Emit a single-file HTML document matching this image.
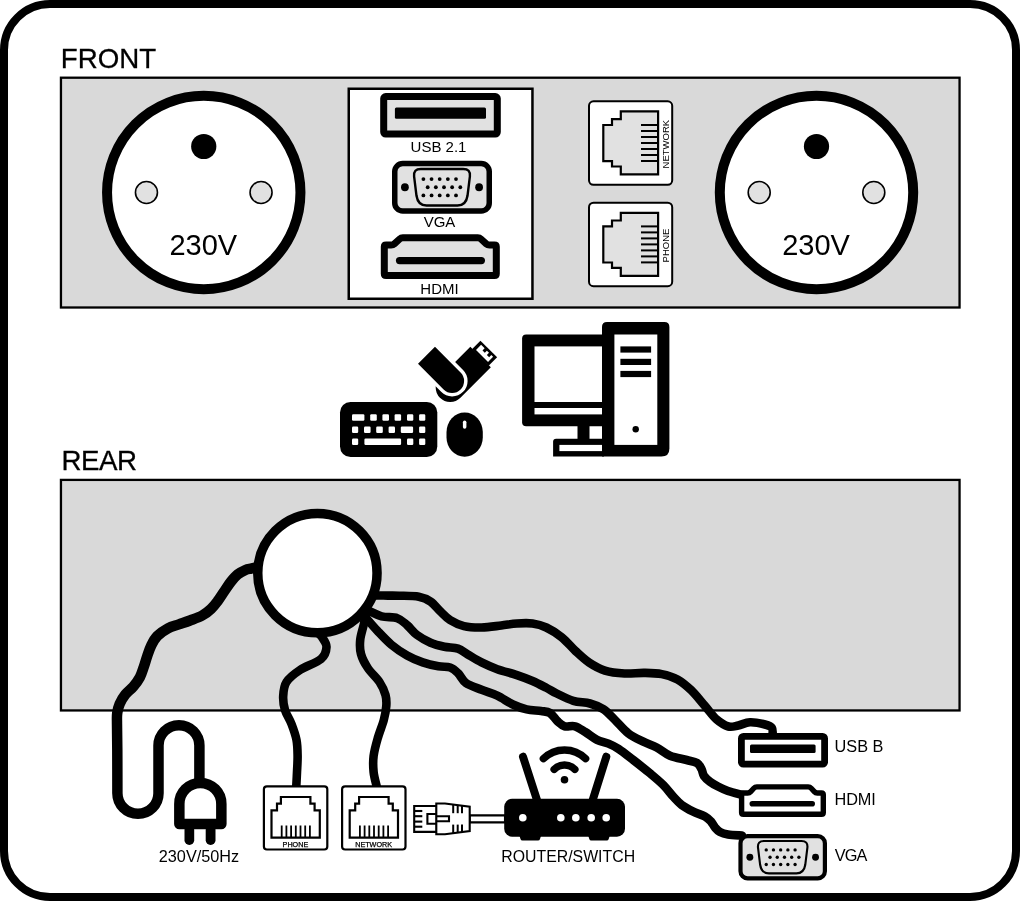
<!DOCTYPE html>
<html><head><meta charset="utf-8"><title>Connection panel</title>
<style>html,body{margin:0;padding:0;background:#fff}svg{display:block;will-change:transform}</style></head>
<body>
<svg width="1020" height="901" viewBox="0 0 1020 901">
<rect width="1020" height="901" fill="#fff"/>
<rect x="4" y="4" width="1012" height="893" rx="46" ry="46" fill="#fff" stroke="#000" stroke-width="8"/>
<text transform="translate(60.8 67.5) scale(1 1.03)" font-size="27.7" stroke="#000" stroke-width="0.3" font-family="Liberation Sans, Arial, Helvetica, sans-serif">FRONT</text>
<text transform="translate(61.4 470.2) scale(1 1.03)" font-size="27.7" letter-spacing="-0.45" stroke="#000" stroke-width="0.3" font-family="Liberation Sans, Arial, Helvetica, sans-serif">REAR</text>
<rect x="60.95" y="77.7" width="898.6" height="229.8" fill="#d9d9d9" stroke="#000" stroke-width="2.3"/>
<rect x="60.95" y="479.9" width="898.6" height="230.55" fill="#d9d9d9" stroke="#000" stroke-width="2.3"/>
<circle cx="203.75" cy="192.5" r="96.7" fill="#fff" stroke="#000" stroke-width="10"/>
<circle cx="203.75" cy="146.5" r="12.6" fill="#000"/>
<circle cx="146.45" cy="192.5" r="11" fill="#e1e1e1" stroke="#000" stroke-width="1.6"/>
<circle cx="261.05" cy="192.5" r="11" fill="#e1e1e1" stroke="#000" stroke-width="1.6"/>
<text x="203.25" y="254.5" font-size="29" text-anchor="middle" font-family="Liberation Sans, Arial, Helvetica, sans-serif">230V</text>
<circle cx="816.5" cy="192.5" r="96.7" fill="#fff" stroke="#000" stroke-width="10"/>
<circle cx="816.5" cy="146.5" r="12.6" fill="#000"/>
<circle cx="759.2" cy="192.5" r="11" fill="#e1e1e1" stroke="#000" stroke-width="1.6"/>
<circle cx="873.8" cy="192.5" r="11" fill="#e1e1e1" stroke="#000" stroke-width="1.6"/>
<text x="816.0" y="254.5" font-size="29" text-anchor="middle" font-family="Liberation Sans, Arial, Helvetica, sans-serif">230V</text>
<rect x="348.75" y="88.75" width="183.7" height="210" fill="#fff" stroke="#000" stroke-width="2.5"/>
<rect x="383.7" y="96.6" width="113.60000000000002" height="37.400000000000006" rx="2" fill="#e1e1e1" stroke="#000" stroke-width="7" stroke-linejoin="round"/>
<rect x="394.9" y="107.5" width="91.10000000000002" height="11.299999999999997" rx="1.5" fill="#000"/>
<text x="438.5" y="152" font-size="15" text-anchor="middle" font-family="Liberation Sans, Arial, Helvetica, sans-serif">USB 2.1</text>
<rect x="394.75" y="163.55" width="94.5" height="47.39999999999998" rx="8.0" fill="#e1e1e1" stroke="#000" stroke-width="5.5"/>
<path d="M420.8 168.95 L463.2 168.95 Q470.7 168.95 469.9 176.45 L467.5 195.8 Q466.0 205.55 457.5 205.55 L426.5 205.55 Q418.0 205.55 416.5 195.8 L414.1 176.45 Q413.3 168.95 420.8 168.95 Z" fill="#e1e1e1" stroke="#000" stroke-width="2.4"/>
<circle cx="404.9" cy="187.25" r="3.9" fill="#000"/>
<circle cx="479.1" cy="187.25" r="3.9" fill="#000"/>
<circle cx="423.40" cy="179.05" r="1.90" fill="#000"/>
<circle cx="431.55" cy="179.05" r="1.90" fill="#000"/>
<circle cx="439.70" cy="179.05" r="1.90" fill="#000"/>
<circle cx="447.85" cy="179.05" r="1.90" fill="#000"/>
<circle cx="456.00" cy="179.05" r="1.90" fill="#000"/>
<circle cx="427.70" cy="187.25" r="1.90" fill="#000"/>
<circle cx="435.85" cy="187.25" r="1.90" fill="#000"/>
<circle cx="444.00" cy="187.25" r="1.90" fill="#000"/>
<circle cx="452.15" cy="187.25" r="1.90" fill="#000"/>
<circle cx="460.30" cy="187.25" r="1.90" fill="#000"/>
<circle cx="423.40" cy="195.45" r="1.90" fill="#000"/>
<circle cx="431.55" cy="195.45" r="1.90" fill="#000"/>
<circle cx="439.70" cy="195.45" r="1.90" fill="#000"/>
<circle cx="447.85" cy="195.45" r="1.90" fill="#000"/>
<circle cx="456.00" cy="195.45" r="1.90" fill="#000"/>
<text x="439.5" y="226.9" font-size="15" text-anchor="middle" font-family="Liberation Sans, Arial, Helvetica, sans-serif">VGA</text>
<path d="M384.30 246.80 Q384.30 245.00 386.10 245.00 L391.20 245.00 Q393.00 245.00 394.34 243.80 L399.66 239.00 Q401.00 237.80 402.80 237.80 L477.80 237.80 Q479.60 237.80 480.94 239.00 L486.26 243.80 Q487.60 245.00 489.40 245.00 L494.50 245.00 Q496.30 245.00 496.30 246.80 L496.30 273.70 Q496.30 275.50 494.50 275.50 L386.10 275.50 Q384.30 275.50 384.30 273.70 Z" fill="#e1e1e1" stroke="#000" stroke-width="7" stroke-linejoin="round"/>
<rect x="395.9" y="256.9" width="89.10000000000002" height="7.400000000000034" rx="3.700000000000017" fill="#000"/>
<text x="439.5" y="293.5" font-size="15" text-anchor="middle" font-family="Liberation Sans, Arial, Helvetica, sans-serif">HDMI</text>
<rect x="589.0" y="101.3" width="83.2" height="83.5" rx="4.5" fill="#fff" stroke="#000" stroke-width="2"/>
<path d="M658.1 111.4 L620.8 111.4 L620.8 119.1 L612.0 119.1 L612.0 125.0 L603.3 125.0 L603.3 161.1 L612.0 161.1 L612.0 166.5 L620.8 166.5 L620.8 174.4 L658.1 174.4 Z" fill="#e1e1e1" stroke="#000" stroke-width="2.2"/>
<line x1="641.0" y1="125.00" x2="658.1" y2="125.00" stroke="#000" stroke-width="2"/>
<line x1="641.0" y1="131.00" x2="658.1" y2="131.00" stroke="#000" stroke-width="2"/>
<line x1="641.0" y1="137.00" x2="658.1" y2="137.00" stroke="#000" stroke-width="2"/>
<line x1="641.0" y1="143.00" x2="658.1" y2="143.00" stroke="#000" stroke-width="2"/>
<line x1="641.0" y1="149.00" x2="658.1" y2="149.00" stroke="#000" stroke-width="2"/>
<line x1="641.0" y1="155.00" x2="658.1" y2="155.00" stroke="#000" stroke-width="2"/>
<line x1="641.0" y1="161.00" x2="658.1" y2="161.00" stroke="#000" stroke-width="2"/>
<text transform="translate(668.6 144.1) rotate(-90)" font-size="9.5" text-anchor="middle" font-family="Liberation Sans, Arial, Helvetica, sans-serif">NETWORK</text>
<rect x="589.0" y="202.70000000000002" width="83.2" height="83.5" rx="4.5" fill="#fff" stroke="#000" stroke-width="2"/>
<path d="M658.1 212.8 L620.8 212.8 L620.8 220.5 L612.0 220.5 L612.0 226.4 L603.3 226.4 L603.3 262.5 L612.0 262.5 L612.0 267.9 L620.8 267.9 L620.8 275.8 L658.1 275.8 Z" fill="#e1e1e1" stroke="#000" stroke-width="2.2"/>
<line x1="641.0" y1="226.40" x2="658.1" y2="226.40" stroke="#000" stroke-width="2"/>
<line x1="641.0" y1="232.40" x2="658.1" y2="232.40" stroke="#000" stroke-width="2"/>
<line x1="641.0" y1="238.40" x2="658.1" y2="238.40" stroke="#000" stroke-width="2"/>
<line x1="641.0" y1="244.40" x2="658.1" y2="244.40" stroke="#000" stroke-width="2"/>
<line x1="641.0" y1="250.40" x2="658.1" y2="250.40" stroke="#000" stroke-width="2"/>
<line x1="641.0" y1="256.40" x2="658.1" y2="256.40" stroke="#000" stroke-width="2"/>
<line x1="641.0" y1="262.40" x2="658.1" y2="262.40" stroke="#000" stroke-width="2"/>
<text transform="translate(668.6 245.5) rotate(-90)" font-size="9.5" text-anchor="middle" font-family="Liberation Sans, Arial, Helvetica, sans-serif">PHONE</text>
<rect x="340" y="402" width="97.3" height="55" rx="10.5" fill="#000"/>
<rect x="352" y="414.3" width="12.4" height="6.5" rx="1.2" fill="#fff"/>
<rect x="370.2" y="414.3" width="6.6" height="6.5" rx="1.2" fill="#fff"/>
<rect x="382.4" y="414.3" width="6.6" height="6.5" rx="1.2" fill="#fff"/>
<rect x="394.6" y="414.3" width="6.5" height="6.5" rx="1.2" fill="#fff"/>
<rect x="407" y="414.3" width="6.3" height="6.5" rx="1.2" fill="#fff"/>
<rect x="419.1" y="414.3" width="6.2" height="6.5" rx="1.2" fill="#fff"/>
<rect x="352" y="426.5" width="6.2" height="6.5" rx="1.2" fill="#fff"/>
<rect x="364" y="426.5" width="6.6" height="6.5" rx="1.2" fill="#fff"/>
<rect x="376.2" y="426.5" width="6.6" height="6.5" rx="1.2" fill="#fff"/>
<rect x="388.6" y="426.5" width="6.4" height="6.5" rx="1.2" fill="#fff"/>
<rect x="400.8" y="426.5" width="12.3" height="6.5" rx="1.2" fill="#fff"/>
<rect x="419.1" y="426.5" width="6.2" height="6.5" rx="1.2" fill="#fff"/>
<rect x="352" y="438.5" width="6.2" height="6.5" rx="1.2" fill="#fff"/>
<rect x="364.4" y="438.5" width="36.7" height="6.5" rx="1.2" fill="#fff"/>
<rect x="407" y="438.5" width="6.3" height="6.5" rx="1.2" fill="#fff"/>
<rect x="419.1" y="438.5" width="6.2" height="6.5" rx="1.2" fill="#fff"/>
<rect x="446.5" y="412.6" width="36.3" height="44.1" rx="18.1" ry="19.5" fill="#000"/>
<rect x="462.9" y="420.5" width="3.5" height="8.3" rx="1.75" fill="#fff"/>
<g transform="matrix(0.7071067811865475 -0.7071067811865475 0.7071067811865475 0.7071067811865475 452.1 380.9)">
<path d="M-6 -11.2 L37 -11.2 L37 17.8 L-6 17.8 A14.5 14.5 0 0 1 -6 -11.2 Z" fill="#000"/>
<rect x="36.5" y="-8.4" width="12" height="23.6" fill="#000"/>
<path d="M38.8 -5 L46 -5 L46 0 L43 0 L43 3.2 L46 3.2 L46 6.2 L43 6.2 L43 9.4 L46 9.4 L46 12 L38.8 12 Z" fill="#fff"/>
<path d="M-12 -36.2 L12 -36.2 L12 0 A12 12 0 0 1 -12 0 Z" fill="#000" stroke="#fff" stroke-width="7" />
<path d="M-12 -36.2 L12 -36.2 L12 0 A12 12 0 0 1 -12 0 Z" fill="#000"/>
</g>
<path d="M607 322.1 L664.4 322.1 Q669.4 322.1 669.4 327.1 L669.4 448.5 Q669.4 456.5 661.4 456.5 L602 456.5 L602 327.1 Q602 322.1 607 322.1 Z" fill="#000"/>
<rect x="614.4" y="334.5" width="42.9" height="110.4" fill="#fff"/>
<rect x="620.4" y="346.4" width="30.7" height="6.2" fill="#000"/>
<rect x="620.4" y="358.8" width="30.7" height="6.2" fill="#000"/>
<rect x="620.4" y="370.9" width="30.7" height="6.2" fill="#000"/>
<circle cx="635.7" cy="429.3" r="3.2" fill="#000"/>
<path d="M526.1 334.5 L604 334.5 L604 426.3 L526.1 426.3 Q522.1 426.3 522.1 422.3 L522.1 338.5 Q522.1 334.5 526.1 334.5 Z" fill="#000"/>
<rect x="534.5" y="346.4" width="67.5" height="55.6" fill="#fff"/>
<rect x="534.5" y="408" width="67.5" height="6.4" fill="#fff"/>
<rect x="577.5" y="425" width="12" height="15" fill="#000"/>
<path d="M556.1 438.7 L604 438.7 L604 456.5 L553.1 456.5 L553.1 441.7 Q553.1 438.7 556.1 438.7 Z" fill="#000"/>
<rect x="559.4" y="444.9" width="42.6" height="6.2" fill="#fff"/>
<path d="M256.50 567.40 C255.58 567.60 252.83 568.17 251.00 568.60 C249.17 569.03 247.72 569.03 245.50 570.00 C243.28 570.97 240.12 572.47 237.70 574.40 C235.28 576.33 233.22 578.82 231.00 581.60 C228.78 584.38 226.62 587.87 224.40 591.10 C222.18 594.33 219.92 598.05 217.70 601.00 C215.48 603.95 213.68 606.38 211.10 608.80 C208.52 611.22 205.72 613.55 202.20 615.50 C198.68 617.45 193.88 619.02 190.00 620.50 C186.12 621.98 182.57 623.10 178.90 624.40 C175.23 625.70 171.60 626.37 168.00 628.30 C164.40 630.23 160.08 633.17 157.30 636.00 C154.52 638.83 152.97 641.98 151.30 645.30 C149.63 648.62 148.53 652.35 147.30 655.90 C146.07 659.45 145.13 663.05 143.90 666.60 C142.67 670.15 141.67 673.87 139.90 677.20 C138.13 680.53 135.73 683.72 133.30 686.60 C130.87 689.48 127.57 691.62 125.30 694.50 C123.03 697.38 121.05 700.78 119.70 703.90 C118.35 707.02 117.65 709.85 117.20 713.20 C116.75 716.55 116.98 717.87 117.00 724.00 C117.02 730.13 117.23 738.47 117.30 750.00 C117.37 761.53 117.38 786.00 117.40 793.20 A20.55 20.55 0 0 0 158.5 793.2 L158.5 745.6 A20.45 20.45 0 0 1 199.4 745.6 L199.4 782" fill="none" stroke="#000" stroke-width="10.5" stroke-linejoin="round"/>
<path d="M318.00 633.00 C318.65 633.67 320.48 634.67 321.90 637.00 C323.32 639.33 326.65 643.33 326.50 647.00 C326.35 650.67 325.42 655.17 321.00 659.00 C316.58 662.83 305.75 666.17 300.00 670.00 C294.25 673.83 289.30 677.67 286.50 682.00 C283.70 686.33 283.45 691.33 283.20 696.00 C282.95 700.67 283.62 705.33 285.00 710.00 C286.38 714.67 289.58 719.00 291.50 724.00 C293.42 729.00 295.48 734.67 296.50 740.00 C297.52 745.33 297.52 750.67 297.60 756.00 C297.68 761.33 297.22 767.00 297.00 772.00 C296.78 777.00 296.42 783.67 296.30 786.00" fill="none" stroke="#000" stroke-width="8.6" stroke-linecap="round" stroke-linejoin="round"/>
<path d="M366.00 612.00 C365.65 614.00 364.87 619.33 363.90 624.00 C362.93 628.67 360.68 635.00 360.20 640.00 C359.72 645.00 359.73 649.33 361.00 654.00 C362.27 658.67 364.72 663.33 367.80 668.00 C370.88 672.67 376.55 677.50 379.50 682.00 C382.45 686.50 384.37 691.00 385.50 695.00 C386.63 699.00 386.58 701.83 386.30 706.00 C386.02 710.17 385.22 714.67 383.80 720.00 C382.38 725.33 379.50 732.00 377.80 738.00 C376.10 744.00 374.30 750.33 373.60 756.00 C372.90 761.67 373.10 767.00 373.60 772.00 C374.10 777.00 376.10 783.67 376.60 786.00" fill="none" stroke="#000" stroke-width="8.6" stroke-linecap="round" stroke-linejoin="round"/>
<path d="M376.00 595.50 C378.00 595.52 384.13 595.57 388.00 595.60 C391.87 595.63 394.07 595.52 399.20 595.70 C404.33 595.88 413.57 595.72 418.80 596.70 C424.03 597.68 427.00 599.15 430.60 601.60 C434.20 604.05 437.13 608.30 440.40 611.40 C443.67 614.50 446.28 617.75 450.20 620.20 C454.12 622.65 458.67 624.88 463.90 626.10 C469.13 627.32 475.38 627.60 481.60 627.50 C487.82 627.40 495.32 626.17 501.20 625.50 C507.08 624.83 511.68 623.83 516.90 623.50 C522.12 623.17 527.60 622.83 532.50 623.50 C537.40 624.17 541.42 625.20 546.30 627.50 C551.18 629.80 556.93 633.38 561.80 637.30 C566.67 641.22 570.93 646.77 575.50 651.00 C580.07 655.23 584.30 659.43 589.20 662.70 C594.10 665.97 599.02 668.80 604.90 670.60 C610.78 672.40 617.97 673.12 624.50 673.50 C631.03 673.88 637.88 672.80 644.10 672.90 C650.32 673.00 656.23 673.02 661.80 674.10 C667.37 675.18 672.60 676.72 677.50 679.40 C682.40 682.08 686.63 685.78 691.20 690.20 C695.77 694.62 700.65 701.00 704.90 705.90 C709.15 710.80 712.78 716.17 716.70 719.60 C720.62 723.03 724.82 725.52 728.40 726.50 C731.98 727.48 734.60 726.20 738.20 725.50 C741.80 724.80 745.53 722.47 750.00 722.30 C754.47 722.13 761.33 723.55 765.00 724.50 C768.67 725.45 770.75 726.08 772.00 728.00 C773.25 729.92 772.42 734.67 772.50 736.00" fill="none" stroke="#000" stroke-width="8.6" stroke-linecap="round" stroke-linejoin="round"/>
<path d="M368.00 610.50 C370.27 611.47 376.72 615.02 381.60 616.30 C386.48 617.58 393.05 616.73 397.30 618.20 C401.55 619.67 403.83 622.32 407.10 625.10 C410.37 627.88 412.98 631.97 416.90 634.90 C420.82 637.83 426.03 640.73 430.60 642.70 C435.17 644.67 439.73 645.72 444.30 646.70 C448.87 647.68 454.08 647.30 458.00 648.60 C461.92 649.90 463.87 652.20 467.80 654.50 C471.73 656.80 476.68 659.95 481.60 662.40 C486.52 664.85 491.42 667.08 497.30 669.20 C503.18 671.32 511.03 673.13 516.90 675.10 C522.77 677.07 527.60 678.88 532.50 681.00 C537.40 683.12 542.27 685.72 546.30 687.80 C550.33 689.88 552.20 691.33 556.70 693.50 C561.20 695.67 567.75 699.13 573.30 700.80 C578.85 702.47 585.00 702.10 590.00 703.50 C595.00 704.90 599.13 706.45 603.30 709.20 C607.47 711.95 610.83 715.98 615.00 720.00 C619.17 724.02 623.58 729.68 628.30 733.30 C633.02 736.92 638.57 739.33 643.30 741.70 C648.03 744.07 652.25 745.15 656.70 747.50 C661.15 749.85 665.00 753.72 670.00 755.80 C675.00 757.88 682.20 758.80 686.70 760.00 C691.20 761.20 694.53 761.50 697.00 763.00 C699.47 764.50 700.33 766.83 701.50 769.00 C702.67 771.17 702.58 773.88 704.00 776.00 C705.42 778.12 707.67 779.95 710.00 781.70 C712.33 783.45 715.00 784.95 718.00 786.50 C721.00 788.05 724.00 789.58 728.00 791.00 C732.00 792.42 739.67 794.33 742.00 795.00" fill="none" stroke="#000" stroke-width="8.6" stroke-linecap="round" stroke-linejoin="round"/>
<path d="M364.00 615.50 C366.27 618.08 373.03 626.13 377.60 631.00 C382.17 635.87 386.48 640.62 391.40 644.70 C396.32 648.78 401.88 652.55 407.10 655.50 C412.32 658.45 417.48 660.60 422.70 662.40 C427.92 664.20 433.82 665.45 438.40 666.30 C442.98 667.15 446.93 666.37 450.20 667.50 C453.47 668.63 455.38 670.53 458.00 673.10 C460.62 675.67 461.97 680.12 465.90 682.90 C469.83 685.68 476.37 687.67 481.60 689.80 C486.83 691.93 492.08 693.25 497.30 695.70 C502.52 698.15 508.00 702.22 512.90 704.50 C517.80 706.78 522.02 708.32 526.70 709.40 C531.38 710.48 537.12 710.40 541.00 711.00 C544.88 711.60 547.25 711.28 550.00 713.00 C552.75 714.72 555.05 719.08 557.50 721.30 C559.95 723.52 561.78 725.47 564.70 726.30 C567.62 727.13 571.57 725.35 575.00 726.30 C578.43 727.25 581.63 729.75 585.30 732.00 C588.97 734.25 593.13 737.87 597.00 739.80 C600.87 741.73 604.92 742.10 608.50 743.60 C612.08 745.10 614.37 746.07 618.50 748.80 C622.63 751.53 628.05 755.92 633.30 760.00 C638.55 764.08 645.00 769.13 650.00 773.30 C655.00 777.47 659.42 781.10 663.30 785.00 C667.18 788.90 670.23 793.37 673.30 796.70 C676.37 800.03 678.37 802.50 681.70 805.00 C685.03 807.50 689.42 809.78 693.30 811.70 C697.18 813.62 702.05 814.87 705.00 816.50 C707.95 818.13 709.33 819.67 711.00 821.50 C712.67 823.33 713.50 825.75 715.00 827.50 C716.50 829.25 717.83 830.83 720.00 832.00 C722.17 833.17 724.33 833.92 728.00 834.50 C731.67 835.08 739.67 835.33 742.00 835.50" fill="none" stroke="#000" stroke-width="8.6" stroke-linecap="round" stroke-linejoin="round"/>
<circle cx="317.4" cy="573.1" r="59.65" fill="#fff" stroke="#000" stroke-width="9.5"/>
<path d="M179.35 824 L179.35 803.9 A21 21 0 0 1 221.35 803.9 L221.35 824 Z" fill="#fff" stroke="#000" stroke-width="10.5" stroke-linejoin="round"/>
<rect x="184.5" y="825" width="9.7" height="20" rx="4.8" fill="#000"/>
<rect x="205.7" y="825" width="9.8" height="20" rx="4.8" fill="#000"/>
<text x="199" y="861.9" font-size="16.25" text-anchor="middle" font-family="Liberation Sans, Arial, Helvetica, sans-serif">230V/50Hz</text>
<rect x="263.90000000000003" y="786.3000000000001" width="63.4" height="63.2" rx="3" fill="#fff" stroke="#000" stroke-width="2.2"/>
<path d="M271.50 837.70 L271.50 810.30 L277.00 810.30 L277.00 803.70 L280.90 803.70 L280.90 797.00 L310.40 797.00 L310.40 803.70 L314.60 803.70 L314.60 810.30 L319.80 810.30 L319.80 837.70 Z" fill="#fff" stroke="#000" stroke-width="2.2"/>
<line x1="281.70" y1="825.5" x2="281.70" y2="837.7" stroke="#000" stroke-width="1.8"/>
<line x1="286.40" y1="825.5" x2="286.40" y2="837.7" stroke="#000" stroke-width="1.8"/>
<line x1="291.10" y1="825.5" x2="291.10" y2="837.7" stroke="#000" stroke-width="1.8"/>
<line x1="295.80" y1="825.5" x2="295.80" y2="837.7" stroke="#000" stroke-width="1.8"/>
<line x1="300.50" y1="825.5" x2="300.50" y2="837.7" stroke="#000" stroke-width="1.8"/>
<line x1="305.20" y1="825.5" x2="305.20" y2="837.7" stroke="#000" stroke-width="1.8"/>
<line x1="309.90" y1="825.5" x2="309.90" y2="837.7" stroke="#000" stroke-width="1.8"/>
<text x="295.40000000000003" y="846.5" font-size="7.2" text-anchor="middle" stroke="#000" stroke-width="0.25" font-family="Liberation Sans, Arial, Helvetica, sans-serif">PHONE</text>
<rect x="342.1" y="786.3000000000001" width="63.4" height="63.2" rx="3" fill="#fff" stroke="#000" stroke-width="2.2"/>
<path d="M349.70 837.70 L349.70 810.30 L355.20 810.30 L355.20 803.70 L359.10 803.70 L359.10 797.00 L388.60 797.00 L388.60 803.70 L392.80 803.70 L392.80 810.30 L398.00 810.30 L398.00 837.70 Z" fill="#fff" stroke="#000" stroke-width="2.2"/>
<line x1="359.90" y1="825.5" x2="359.90" y2="837.7" stroke="#000" stroke-width="1.8"/>
<line x1="364.60" y1="825.5" x2="364.60" y2="837.7" stroke="#000" stroke-width="1.8"/>
<line x1="369.30" y1="825.5" x2="369.30" y2="837.7" stroke="#000" stroke-width="1.8"/>
<line x1="374.00" y1="825.5" x2="374.00" y2="837.7" stroke="#000" stroke-width="1.8"/>
<line x1="378.70" y1="825.5" x2="378.70" y2="837.7" stroke="#000" stroke-width="1.8"/>
<line x1="383.40" y1="825.5" x2="383.40" y2="837.7" stroke="#000" stroke-width="1.8"/>
<line x1="388.10" y1="825.5" x2="388.10" y2="837.7" stroke="#000" stroke-width="1.8"/>
<text x="373.6" y="846.5" font-size="7.2" text-anchor="middle" stroke="#000" stroke-width="0.25" font-family="Liberation Sans, Arial, Helvetica, sans-serif">NETWORK</text>
<g fill="#fff" stroke="#000" stroke-width="2.1" stroke-linejoin="miter">
<path d="M469.7 815.4 L505 815.4 L505 822.4 L469.7 822.4 Z"/>
<path d="M414.2 806 L436.8 806 L436.8 831.9 L414.2 831.9 Z"/>
<line x1="414.2" y1="811" x2="422.3" y2="811"/>
<line x1="414.2" y1="816.2" x2="422.3" y2="816.2"/>
<line x1="414.2" y1="821.6" x2="422.3" y2="821.6"/>
<line x1="414.2" y1="826.7" x2="422.3" y2="826.7"/>
<path d="M436.3 814 L427.4 814 L427.4 823.7 L436.3 823.7" fill="none"/>
<path d="M436.3 803.5 L445 803.5 L469.7 806.7 L469.7 831 L445 834.2 L436.3 834.2 Z"/>
<path d="M436.3 816.2 L449 816.2 L449 821.3 L436.3 821.3" fill="none"/>
<line x1="453.2" y1="804.7" x2="453.2" y2="813.2" stroke-width="2"/>
<line x1="453.2" y1="824.6" x2="453.2" y2="833.0" stroke-width="2"/>
<line x1="457.7" y1="805.3000000000001" x2="457.7" y2="813.2" stroke-width="2"/>
<line x1="457.7" y1="824.6" x2="457.7" y2="832.4" stroke-width="2"/>
<line x1="462" y1="805.8000000000001" x2="462" y2="813.2" stroke-width="2"/>
<line x1="462" y1="824.6" x2="462" y2="831.9" stroke-width="2"/>
</g>
<rect x="504.2" y="798.8" width="120.8" height="37.9" rx="8" fill="#000"/>
<path d="M519.2 835 L541.3 835 L540 839 Q539.6 840.5 538 840.5 L522.5 840.5 Q520.9 840.5 520.5 839 Z" fill="#000"/>
<path d="M588 835 L610 835 L608.7 839 Q608.3 840.5 606.7 840.5 L591.3 840.5 Q589.7 840.5 589.3 839 Z" fill="#000"/>
<circle cx="522.8" cy="817.8" r="3.8" fill="#fff"/>
<circle cx="560.8" cy="817.8" r="3.8" fill="#fff"/>
<circle cx="575.8" cy="817.8" r="3.8" fill="#fff"/>
<circle cx="591.2" cy="817.8" r="3.8" fill="#fff"/>
<circle cx="606.2" cy="817.8" r="3.8" fill="#fff"/>
<line x1="523" y1="756.7" x2="537" y2="800" stroke="#000" stroke-width="8" stroke-linecap="round"/>
<line x1="606.3" y1="756.7" x2="592.7" y2="800" stroke="#000" stroke-width="8" stroke-linecap="round"/>
<circle cx="564.5" cy="779.7" r="3.8" fill="#000"/>
<path d="M554.18 769.38 A14.6 14.6 0 0 1 574.82 769.38" fill="none" stroke="#000" stroke-width="7.5" stroke-linecap="round"/>
<path d="M543.43 758.63 A29.8 29.8 0 0 1 585.57 758.63" fill="none" stroke="#000" stroke-width="7.5" stroke-linecap="round"/>
<text x="568.2" y="862" font-size="15.85" text-anchor="middle" font-family="Liberation Sans, Arial, Helvetica, sans-serif">ROUTER/SWITCH</text>
<rect x="741.4" y="736.4" width="83.2" height="27.800000000000022" rx="2" fill="#fff" stroke="#000" stroke-width="6.8" stroke-linejoin="round"/>
<rect x="750" y="744.4" width="65.60000000000002" height="8.600000000000023" rx="1.5" fill="#000"/>
<path d="M741.60 794.80 Q741.60 793.00 743.40 793.00 L747.70 793.00 Q749.50 793.00 750.71 791.66 L753.79 788.24 Q755.00 786.90 756.80 786.90 L808.20 786.90 Q810.00 786.90 811.21 788.24 L814.29 791.66 Q815.50 793.00 817.30 793.00 L821.50 793.00 Q823.30 793.00 823.30 794.80 L823.30 812.50 Q823.30 814.30 821.50 814.30 L743.40 814.30 Q741.60 814.30 741.60 812.50 Z" fill="#fff" stroke="#000" stroke-width="5.4" stroke-linejoin="round"/>
<rect x="749.5" y="801" width="65.5" height="5.600000000000023" rx="2.8000000000000114" fill="#000"/>
<rect x="740.5" y="836.1" width="84.40000000000002" height="42.199999999999974" rx="7.08" fill="#e1e1e1" stroke="#000" stroke-width="4.2"/>
<path d="M763.9380000000001 841.0045 L801.462 841.0045 Q808.0995 841.0045 807.3915000000001 847.642 L805.2675 864.7667500000001 Q803.94 873.3955000000001 796.4175 873.3955000000001 L768.9825000000001 873.3955000000001 Q761.46 873.3955000000001 760.1325 864.7667500000001 L758.0085 847.642 Q757.3005 841.0045 763.9380000000001 841.0045 Z" fill="#e1e1e1" stroke="#000" stroke-width="2.124"/>
<circle cx="749.8665000000001" cy="857.2" r="3.4515" fill="#000"/>
<circle cx="815.5335" cy="857.2" r="3.4515" fill="#000"/>
<circle cx="766.24" cy="849.94" r="1.68" fill="#000"/>
<circle cx="773.45" cy="849.94" r="1.68" fill="#000"/>
<circle cx="780.66" cy="849.94" r="1.68" fill="#000"/>
<circle cx="787.88" cy="849.94" r="1.68" fill="#000"/>
<circle cx="795.09" cy="849.94" r="1.68" fill="#000"/>
<circle cx="770.04" cy="857.20" r="1.68" fill="#000"/>
<circle cx="777.26" cy="857.20" r="1.68" fill="#000"/>
<circle cx="784.47" cy="857.20" r="1.68" fill="#000"/>
<circle cx="791.68" cy="857.20" r="1.68" fill="#000"/>
<circle cx="798.90" cy="857.20" r="1.68" fill="#000"/>
<circle cx="766.24" cy="864.46" r="1.68" fill="#000"/>
<circle cx="773.45" cy="864.46" r="1.68" fill="#000"/>
<circle cx="780.66" cy="864.46" r="1.68" fill="#000"/>
<circle cx="787.88" cy="864.46" r="1.68" fill="#000"/>
<circle cx="795.09" cy="864.46" r="1.68" fill="#000"/>
<text x="834.6" y="752.4" font-size="16.3" font-family="Liberation Sans, Arial, Helvetica, sans-serif">USB B</text>
<text x="834.6" y="805.1" font-size="16.3" letter-spacing="-0.15" font-family="Liberation Sans, Arial, Helvetica, sans-serif">HDMI</text>
<text x="834.8" y="860.8" font-size="16.3" letter-spacing="-0.9" font-family="Liberation Sans, Arial, Helvetica, sans-serif">VGA</text>
</svg>
</body></html>
